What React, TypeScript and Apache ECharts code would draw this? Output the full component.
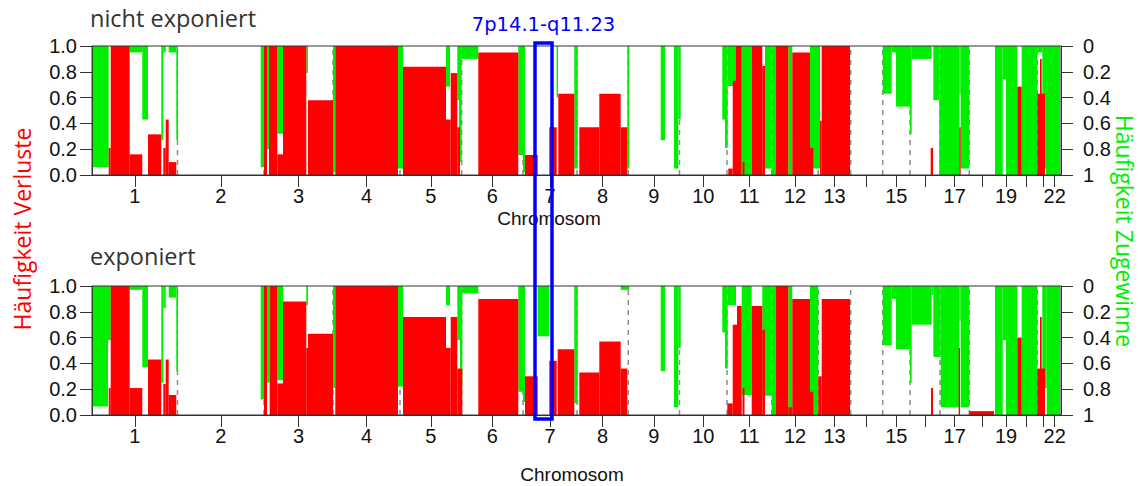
import React, { useEffect, useRef } from "react";
import * as echarts from "echarts";

// Chromosome lengths in genome units (plot scale), chromosomes 1..22
const chromLengths = [85.5, 86.5, 69, 67, 61.7, 61.3, 54, 51.3, 51.2, 47.5, 44.7, 46.6, 32.4, 32, 27.3, 30, 29.3, 26.7, 20, 21.3, 11, 12.7];
const labeledChroms = [1, 2, 3, 4, 5, 6, 7, 8, 9, 10, 11, 12, 13, 15, 17, 19, 22];
const panelTitles = ["nicht exponiert", "exponiert"];
const xAxisTitle = "Chromosom";
const leftTitle = "Häufigkeit Verluste";
const rightTitle = "Häufigkeit Zugewinne";
const highlightRegion = [443, 460];
const highlightLabel = "7p14.1-q11.23";

// [start, end, frequency]
const lossUnexposed = [
  [16.7, 18.7, 0.21], [18.7, 37.7, 1.0], [37.7, 50.3, 0.16], [56, 69.3, 0.315], [71.3, 73.7, 0.21], [73.7, 76.7, 0.43], [76.7, 84.3, 0.1],
  [172, 175, 1.0], [177, 185.3, 1.0], [185.3, 191, 0.16], [191, 214.3, 1.0], [216, 241, 0.58], [243.3, 306, 1.0],
  [311, 354, 0.84], [354, 358.7, 0.43], [358.7, 365.3, 0.79], [365.3, 368, 0.37], [386.3, 426.3, 0.95], [433, 445.7, 0.155],
  [457.3, 464.7, 0.37], [466.3, 482.3, 0.63], [487.3, 507.3, 0.37], [507.3, 528.7, 0.63], [528.7, 535.3, 0.37],
  [636.3, 640.7, 0.05], [640.7, 644, 0.73], [644, 649.7, 1.0], [650.5, 652.5, 0.1], [659.7, 670.3, 1.0], [670.3, 673, 0.845],
  [684, 696.3, 1.0], [700.3, 718, 0.95], [718, 721.3, 0.21], [728, 729.7, 0.42], [729.7, 758, 1.0],
  [838.7, 841, 0.21], [867.3, 868.7, 0.37], [925.3, 929.7, 0.685], [945.3, 953, 0.63], [948, 949.7, 0.9],
];
const gainUnexposed = [
  [0.7, 16.7, 0.94], [37.7, 50.3, 0.05], [50.3, 56, 0.57], [69.3, 71.3, 0.73], [71.3, 73.7, 0.05], [76.7, 84.3, 0.05], [84.3, 86, 0.73],
  [168.7, 172, 0.94], [175, 177, 0.8], [185.3, 191, 0.68], [214.3, 216, 0.21], [241, 243.3, 0.98], [306, 311, 0.95],
  [354, 358, 0.315], [365.3, 367, 0.42], [367, 369.7, 0.9], [369.7, 386.3, 0.1], [426.3, 431, 0.845], [431, 433, 0.98],
  [464.6, 466, 0.4], [482.3, 485.7, 0.95], [535.3, 537.3, 0.95], [568.7, 573, 0.73], [582, 586.3, 0.95], [586.3, 588.7, 0.57],
  [630.3, 633, 0.57], [633, 635.7, 0.79], [635.7, 644, 0.31], [649.7, 659.7, 1.0], [673, 679.7, 0.95], [679.7, 684, 1.0],
  [696.3, 700.3, 1.0], [718, 728, 0.95], [790.7, 799.7, 0.37], [799.7, 804, 0.05], [804, 818, 0.47], [818, 819.7, 0.68],
  [819.7, 839.7, 0.1], [841.3, 847.3, 0.42], [847.3, 867.3, 1.0], [867.3, 868.7, 0.37], [868.7, 877.3, 0.95],
  [903, 910.7, 1.0], [910.7, 914, 0.26], [914, 925.3, 1.0], [929.7, 945.3, 1.0], [945.3, 950.3, 0.05], [950.3, 954, 0.95], [954, 968, 1.0],
];
const lossExposed = [
  [16.7, 18.7, 0.21], [18.7, 37.7, 1.0], [37.7, 50.3, 0.21], [56, 69.3, 0.43], [71.3, 73.7, 0.24], [73.7, 76.7, 0.43], [76.7, 84.3, 0.155],
  [172, 175, 1.0], [177.7, 185.3, 1.0], [185.3, 191, 0.245], [191, 214.3, 0.88], [214.3, 216, 0.52], [216, 241, 0.63], [243.3, 306, 1.0],
  [311, 354, 0.76], [354, 358.7, 0.52], [358.7, 365.3, 0.76], [365.3, 370.3, 0.36], [386.3, 426.3, 0.9], [433, 445.7, 0.3],
  [457.3, 464.7, 0.42], [465.7, 482.3, 0.51], [487.3, 507.3, 0.33], [507.3, 528.7, 0.57], [528.7, 535.3, 0.36],
  [635.3, 640.7, 0.09], [640.7, 645, 0.7], [645, 649.7, 0.845], [650.5, 652.5, 0.21], [659.7, 670.3, 0.845], [670.3, 673, 0.66],
  [684, 696.3, 1.0], [696.3, 700.3, 0.06], [700.3, 718, 0.9], [718, 721.3, 0.18], [726.3, 729.7, 0.3], [729.7, 758, 0.9],
  [839, 841, 0.21], [866.7, 868, 0.52], [877.3, 902, 0.03], [925.3, 929.7, 0.6], [945.3, 953, 0.36], [948, 949.7, 0.76],
];
const gainExposed = [
  [0.7, 16, 0.935], [16, 18.7, 0.42], [37.7, 50.3, 0.03], [50.3, 56, 0.63], [69.3, 71.3, 0.75], [71.3, 73.7, 0.17], [76.7, 84.3, 0.09], [84.3, 86, 0.66],
  [168.7, 172, 0.88], [175, 177.7, 0.75], [185.3, 191, 0.73], [214.3, 216, 0.15], [241, 243.3, 0.79], [306, 311, 0.78],
  [354, 358, 0.15], [365.3, 368, 0.42], [368, 370.3, 0.78], [370.3, 386.3, 0.057], [426.3, 431, 0.82], [431, 433, 0.9],
  [445.7, 457.3, 0.39], [482.3, 485.7, 0.91], [528.7, 537.3, 0.03], [568.7, 573, 0.66], [582, 586.3, 0.94], [586.3, 588.7, 0.48],
  [630.3, 633, 0.36], [633, 635.7, 0.64], [635.7, 644, 0.15], [649.7, 659.7, 0.845], [670.3, 679.7, 0.85], [679.7, 684, 1.0],
  [696.3, 700.3, 1.0], [718, 726.3, 1.0], [790.7, 799.7, 0.46], [799.7, 804, 0.1], [804, 818, 0.49], [818, 819.7, 0.75],
  [819.7, 839.7, 0.3], [839.7, 841.3, 0.07], [841.3, 848.7, 0.55], [848.7, 867.3, 0.94], [867.3, 868.7, 0.27], [868.7, 877.3, 0.94],
  [903, 910.7, 1.0], [910.7, 914, 0.42], [914, 925.3, 1.0], [929.7, 945.3, 1.0], [950.3, 954.7, 0.79], [954.7, 968, 1.0],
];

const RED = "#ff0000";
const GREEN = "#00ef00";
const AXIS = "#333333";
const LABEL_FONT = "Liberation Sans";

export default function App() {
  const ref = useRef<HTMLDivElement>(null);

  useEffect(() => {
    if (!ref.current) return;
    const chart = echarts.init(ref.current, null, { renderer: "svg" });

    const starts: number[] = [];
    let acc = 0;
    chromLengths.forEach((l) => { starts.push(acc); acc += l; });
    const total = acc;
    const centers = chromLengths.map((l, i) => starts[i] + l / 2);
    const boundaries = starts.slice(1);
    const labeledCenters = labeledChroms.map((c) => centers[c - 1]);

    const rectRender = (color: string) => (params: any, api: any) => {
      const x0 = api.value(0), x1 = api.value(1), v = api.value(2);
      const p0 = api.coord([x0, 0]);
      const p1 = api.coord([x1, v]);
      return {
        type: "rect",
        shape: { x: p0[0], y: Math.min(p0[1], p1[1]), width: p1[0] - p0[0], height: Math.abs(p1[1] - p0[1]) },
        style: { fill: color },
      };
    };
    const lineRender = (params: any, api: any) => {
      const b = api.value(0);
      const p0 = api.coord([b, 0]);
      const p1 = api.coord([b, 1]);
      return {
        type: "line",
        shape: { x1: p0[0], y1: p0[1], x2: p1[0], y2: p1[1] },
        style: { stroke: "#8c8c8c", lineWidth: 1.5, lineDash: [5, 5] },
      };
    };

    const grids = [0, 1].map((i) => ({
      left: 92, top: i === 0 ? 46 : 286, width: 969, height: 129, z: 10,
      show: true, borderColor: AXIS, borderWidth: 1, backgroundColor: "transparent",
    }));

    const xAxes = [0, 1].map((i) => ({
      type: "value", gridIndex: i, min: 0, max: total,
      axisLine: { show: true, onZero: false, lineStyle: { color: AXIS, width: 1 } },
      axisTick: { show: true, customValues: centers, length: 12, lineStyle: { color: AXIS, width: 1 } },
      axisLabel: {
        customValues: labeledCenters,
        formatter: (v: number) => String(centers.findIndex((c) => Math.abs(c - v) < 1e-6) + 1),
        fontSize: 20, color: "#111", fontFamily: LABEL_FONT, margin: 12, lineHeight: 18,
      },
      splitLine: { show: false },
    }));

    const yAxes: any[] = [];
    [0, 1].forEach((i) => {
      yAxes.push({
        type: "value", gridIndex: i, position: "left", min: 0, max: 1, interval: 0.2,
        axisLine: { show: true, lineStyle: { color: AXIS } },
        axisTick: { show: true, length: 12, lineStyle: { color: AXIS } },
        axisLabel: { formatter: (v: number) => v.toFixed(1), fontSize: 20, color: "#111", fontFamily: LABEL_FONT, margin: 15 },
        splitLine: { show: false },
      });
      yAxes.push({
        type: "value", gridIndex: i, position: "right", inverse: true, min: 0, max: 1, interval: 0.2,
        axisLine: { show: true, lineStyle: { color: AXIS } },
        axisTick: { show: true, length: 12, lineStyle: { color: AXIS } },
        axisLabel: { formatter: (v: number) => String(Math.round(v * 10) / 10), fontSize: 20, color: "#111", fontFamily: LABEL_FONT, margin: 22 },
        splitLine: { show: false },
      });
    });

    const panels = [
      { loss: lossUnexposed, gain: gainUnexposed },
      { loss: lossExposed, gain: gainExposed },
    ];
    const series: any[] = [];
    panels.forEach((p, i) => {
      series.push({
        type: "custom", xAxisIndex: i, yAxisIndex: 2 * i, z: 1, silent: true,
        data: boundaries.map((b) => [b]), encode: { x: 0 }, renderItem: lineRender,
      });
      series.push({
        type: "custom", xAxisIndex: i, yAxisIndex: 2 * i + 1, z: 2, silent: true,
        data: p.gain, encode: { x: [0, 1], y: 2 }, renderItem: rectRender(GREEN),
      });
      series.push({
        type: "custom", xAxisIndex: i, yAxisIndex: 2 * i, z: 3, silent: true,
        data: p.loss, encode: { x: [0, 1], y: 2 }, renderItem: rectRender(RED),
      });
    });

    const titleFont = "Open Sans";
    chart.setOption({
      animation: false,
      backgroundColor: "#ffffff",
      grid: grids,
      xAxis: xAxes,
      yAxis: yAxes,
      series,
      graphic: [
        { id: "t0", type: "text", left: 90, top: 6, style: { text: panelTitles[0], font: `23.5px '${titleFont}'`, fill: "#333" } },
        { id: "t1", type: "text", left: 90, top: 244, style: { text: panelTitles[1], font: `23.5px '${titleFont}'`, fill: "#333" } },
        { id: "c0", type: "text", x: 549, y: 218, style: { text: xAxisTitle, font: `19px '${LABEL_FONT}'`, lineHeight: 17, fill: "#111", textAlign: "center", textVerticalAlign: "middle" } },
        { id: "c1", type: "text", x: 572, y: 474, style: { text: xAxisTitle, font: `19px '${LABEL_FONT}'`, lineHeight: 17, fill: "#111", textAlign: "center", textVerticalAlign: "middle" } },
        { id: "yl", type: "text", x: 22, y: 229, rotation: Math.PI / 2, style: { text: leftTitle, font: `23px '${titleFont}'`, fill: RED, textAlign: "center", textVerticalAlign: "middle" } },
        { id: "yr", type: "text", x: 1125, y: 231, rotation: -Math.PI / 2, style: { text: rightTitle, font: `23px '${titleFont}'`, fill: "#00ee00", textAlign: "center", textVerticalAlign: "middle" } },
      ],
    });

    const xL = chart.convertToPixel({ xAxisIndex: 0 }, highlightRegion[0]) as number;
    const xR = chart.convertToPixel({ xAxisIndex: 0 }, highlightRegion[1]) as number;
    const yT = (chart.convertToPixel({ yAxisIndex: 0 }, 1) as number) - 3;
    const yB = (chart.convertToPixel({ yAxisIndex: 2 }, 0) as number) + 4;
    chart.setOption({
      graphic: [
        { id: "hbox", type: "rect", z: 100, shape: { x: xL, y: yT, width: xR - xL, height: yB - yT }, style: { fill: "none", stroke: "#0000ff", lineWidth: 3.5 } },
        { id: "hlab", type: "text", z: 100, x: (xL + xR) / 2, y: 24, style: { text: highlightLabel, font: "19.5px 'DejaVu Sans'", fill: "#0000ff", textAlign: "center", textVerticalAlign: "middle" } },
      ],
    });

    return () => chart.dispose();
  }, []);

  return <div ref={ref} style={{ position: "absolute", left: 0, top: 0, width: 1141, height: 486 }} />;
}
